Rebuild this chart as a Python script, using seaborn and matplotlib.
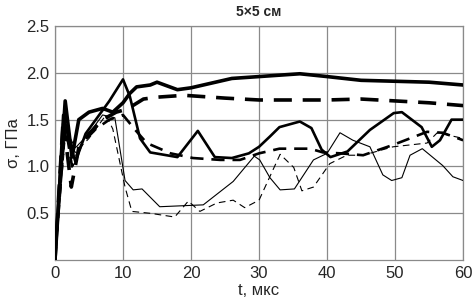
import numpy as np
import pandas as pd
import matplotlib
matplotlib.use('Agg')
import matplotlib.pyplot as plt
import seaborn as sns

# series (t in мкс, sigma in ГПа)
t_thick_solid = [0, 1.5, 2.5, 3.5, 5, 7, 8.5, 10, 11, 12, 14, 15, 18, 20, 26, 30, 36, 40, 45, 50, 55, 60]
s_thick_solid = [0, 1.7, 1.1, 1.5, 1.58, 1.62, 1.58, 1.68, 1.78, 1.85, 1.87, 1.9, 1.82, 1.84, 1.94, 1.96, 1.99, 1.96, 1.92, 1.91, 1.9, 1.87]

t_thick_dash = [0, 1.2, 2.4, 3.5, 5, 7, 9, 10, 11, 13, 15, 19, 25, 30, 35, 40, 45, 50, 55, 60]
s_thick_dash = [0, 1.5, 0.78, 1.2, 1.35, 1.5, 1.58, 1.6, 1.63, 1.72, 1.74, 1.76, 1.73, 1.71, 1.71, 1.71, 1.72, 1.70, 1.68, 1.65]

t_mid_solid = [0, 1.2, 2, 3, 4.5, 6, 8, 10, 11, 12.5, 14, 18, 21, 23.5, 26, 28.5, 30, 31.6, 33, 36, 37.7, 39.2,
               40.5, 43, 46.3, 49.8, 51, 53.9, 55.4, 56.6, 58.3, 60]
s_mid_solid = [0, 1.55, 1.3, 1.05, 1.35, 1.5, 1.7, 1.93, 1.75, 1.3, 1.15, 1.1, 1.38, 1.1, 1.09, 1.14, 1.21, 1.32, 1.42,
               1.48, 1.41, 1.18, 1.10, 1.16, 1.39, 1.57, 1.58, 1.42, 1.21, 1.28, 1.50, 1.50]

t_mid_dash = [0, 1.5, 2.5, 4, 6, 8, 10, 11.8, 13.5, 17, 20.3, 24.3, 27.2, 29.2, 30, 33, 37.5, 39.4, 42, 45.3, 49.7,
              54.7, 57, 60]
s_mid_dash = [0, 1.45, 1.0, 1.25, 1.4, 1.5, 1.55, 1.39, 1.25, 1.14, 1.09, 1.07, 1.07, 1.12, 1.14, 1.19, 1.19, 1.15,
              1.14, 1.12, 1.23, 1.37, 1.36, 1.28]

t_thin_solid = [0, 1.5, 3, 5, 7, 8.8, 10.3, 11.5, 12.8, 15.4, 21.8, 26.2, 29.3, 30.1, 31.6, 33.1, 35.2, 38, 40, 41.9,
                43.8, 46.3, 48.2, 49.5, 51, 52.2, 54, 57, 58.5, 60]
s_thin_solid = [0, 1.4, 1.2, 1.35, 1.55, 1.52, 0.85, 0.75, 0.76, 0.57, 0.59, 0.84, 1.11, 1.07, 0.88, 0.75, 0.76, 1.07,
                1.14, 1.36, 1.28, 1.21, 0.91, 0.85, 0.88, 1.12, 1.19, 1.01, 0.89, 0.85]

t_thin_dash = [0, 1.5, 3, 5, 7.5, 8.5, 10.3, 11.3, 14, 17.6, 19.6, 21.3, 23.8, 26.2, 27.9, 30, 33.1, 35.1, 36.3, 38,
               40.4, 42.9, 45.3, 49.7, 54.7, 56.2, 60]
s_thin_dash = [0, 1.3, 1.15, 1.3, 1.55, 1.4, 0.78, 0.52, 0.5, 0.46, 0.63, 0.52, 0.61, 0.64, 0.56, 0.64, 1.13, 0.99,
               0.74, 0.78, 1.03, 1.12, 1.12, 1.21, 1.25, 1.36, 1.30]

x_ticks = [0, 10, 20, 30, 40, 50, 60]
y_ticks = [0.5, 1.0, 1.5, 2.0, 2.5]

sns.set_style('white')
plt.rcParams['font.family'] = ['Liberation Sans', 'DejaVu Sans']

fig = plt.figure(figsize=(4.74, 3.06), dpi=100)
ax = fig.add_axes([0.116, 0.15, 0.861, 0.765])

series = [
    (t_thick_solid, s_thick_solid, 2.6, '-'),
    (t_thick_dash, s_thick_dash, 2.6, (0, (5, 3))),
    (t_mid_solid, s_mid_solid, 1.9, '-'),
    (t_mid_dash, s_mid_dash, 1.9, (0, (5, 3))),
    (t_thin_solid, s_thin_solid, 0.8, '-'),
    (t_thin_dash, s_thin_dash, 0.8, (0, (6, 4))),
]
for t, s, lw, ls in series:
    df = pd.DataFrame({'t': t, 's': s})
    sns.lineplot(data=df, x='t', y='s', ax=ax, color='black', lw=lw, linestyle=ls,
                 sort=False, estimator=None, zorder=3)

ax.set_xlim(0, 60)
ax.set_ylim(0, 2.5)
ax.set_xticks(x_ticks)
ax.set_yticks(y_ticks)
ax.set_yticklabels([f'{v:.1f}' for v in y_ticks])
ax.tick_params(length=0, labelsize=12, pad=4)
ax.grid(True, color='#8a8a8a', lw=0.9)
for sp in ax.spines.values():
    sp.set_color('#8a8a8a')
    sp.set_linewidth(0.9)

ax.set_xlabel('t, мкс', fontsize=12, labelpad=2)
ax.set_ylabel('σ, ГПа', fontsize=12, labelpad=4)
ax.set_title('5×5 см', fontsize=10, fontweight='bold', pad=7)

fig.savefig('out.png', dpi=100)
